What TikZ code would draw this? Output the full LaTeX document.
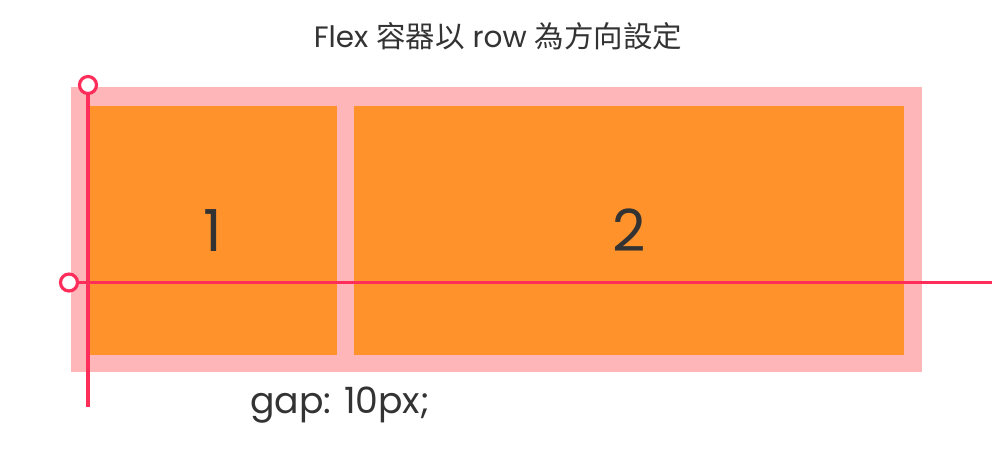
\documentclass[tikz,border=0pt]{standalone}
\usepackage{fontspec}
\setmainfont{Poppins}
\newfontfamily\cjk{Noto Sans CJK TC}
\usetikzlibrary{positioning}
\definecolor{flexpink}{HTML}{FFB6B9}
\definecolor{itemorange}{HTML}{FF922B}
\definecolor{axisred}{HTML}{FF2D5A}
\definecolor{textgray}{HTML}{333333}

\begin{document}
\begin{tikzpicture}[x=0.02cm, y=-0.02cm,
  container/.style={fill=flexpink, minimum width=17.02cm, minimum height=5.7cm, inner sep=0pt, anchor=north west},
  item/.style={fill=itemorange, minimum height=4.99cm, inner sep=0pt, anchor=north west, text=textgray, font=\fontsize{33}{36}\selectfont},
  axis/.style={draw=axisred, line width=1.8pt},
  pin/.style={draw=axisred, fill=white, line width=1.8pt, circle, minimum size=0.34cm, inner sep=0pt},
  lab/.style={text=textgray, inner sep=0pt}]
  \useasboundingbox (0,0) rectangle (1000,461);
  \node[lab, font=\fontsize{16.8}{20}\selectfont] (title) at (498,36) {Flex {\cjk 容器以} row {\cjk 為方向設定}};
  \node[container] (flex) at (71,87) {};
  \node[item, minimum width=4.97cm] (one) at (88.5,105.5) {1};
  \node[item, minimum width=11cm] (two) at (354,105.5) {2};
  % main axis and cross axis
  \coordinate (crosstop) at (88,85);
  \coordinate (crossend) at (88,407);
  \coordinate (mainstart) at (69,282.5);
  \coordinate (mainend) at (992,282.5);
  \draw[axis] (crosstop) -- (crossend);
  \draw[axis] (mainstart) -- (mainend);
  \node[pin] (crosspin) at (crosstop) {};
  \node[pin] (mainpin) at (mainstart) {};
  \node[lab, font=\fontsize{20.6}{24}\selectfont] (gap) at (340,405) {gap: 10px;};
\end{tikzpicture}
\end{document}
